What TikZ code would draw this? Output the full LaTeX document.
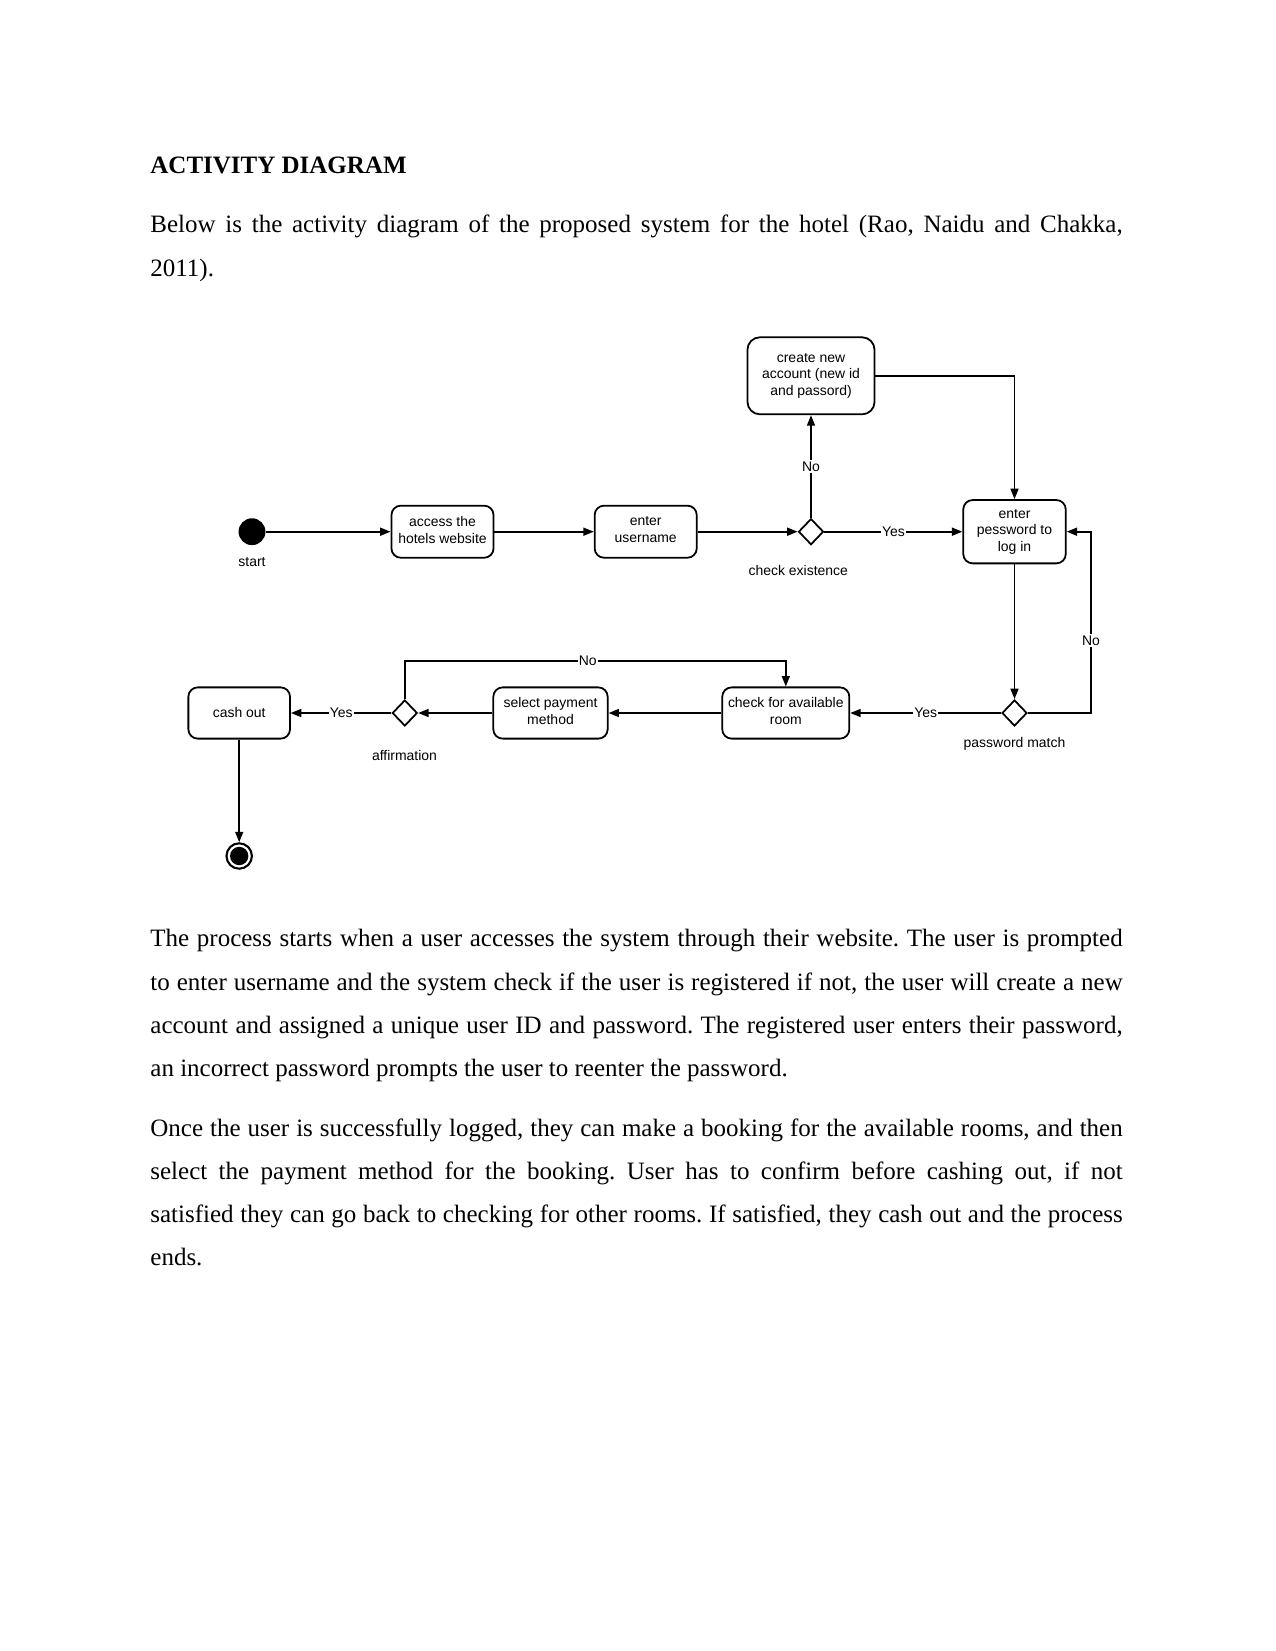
\documentclass[tikz,border=0pt]{standalone}
\usepackage{fontspec}
\setmainfont{Liberation Serif}
\newfontfamily\dsans{Liberation Sans}
\usetikzlibrary{shapes.geometric,arrows.meta}
\newcommand{\jline}[1]{\makebox[466.7pt][s]{#1}}
\frenchspacing
\begin{document}
\begin{tikzpicture}[x=0.48pt,y=-0.48pt,
  body/.style={anchor=base west, inner sep=0pt, font=\fontsize{12}{14}\selectfont},
  act/.style={draw, line width=0.85pt, rounded corners=4.5pt, align=center, inner sep=0pt, font=\dsans\fontsize{6.7}{8}\selectfont},
  dec/.style={draw, diamond, line width=0.85pt, minimum width=12pt, minimum height=12.5pt, inner sep=0pt},
  lbl/.style={fill=white, inner sep=0.6pt, font=\dsans\fontsize{6.7}{8}\selectfont},
  dnote/.style={inner sep=0pt, font=\dsans\fontsize{6.7}{8}\selectfont},
  flow/.style={draw, line width=0.85pt, -{Triangle[length=5pt,width=3.8pt]}}
]
\useasboundingbox (0,0) rectangle (1275,1651);

% page text
\node[body, font=\bfseries\fontsize{12}{14}\selectfont] (head) at (150,173.3) {ACTIVITY DIAGRAM};
\node[body] (p1a) at (150,232.7) {\jline{Below is the activity diagram of the proposed system for the hotel (Rao, Naidu and Chakka,}};
\node[body] (p1b) at (150,276) {2011).};

\node[body] (p2a) at (150,946.7) {\jline{The process starts when a user accesses the system through their website. The user is prompted}};
\node[body] (p2b) at (150,990) {\jline{to enter username and the system check if the user is registered if not, the user will create a new}};
\node[body] (p2c) at (150,1033.3) {\jline{account and assigned a unique user ID and password. The registered user enters their password,}};
\node[body] (p2d) at (150,1076) {an incorrect password prompts the user to reenter the password.};

\node[body] (p3a) at (150,1136.7) {\jline{Once the user is successfully logged, they can make a booking for the available rooms, and then}};
\node[body] (p3b) at (150,1179.3) {\jline{select the payment method for the booking. User has to confirm before cashing out, if not}};
\node[body] (p3c) at (150,1222) {\jline{satisfied they can go back to checking for other rooms. If satisfied, they cash out and the process}};
\node[body] (p3d) at (150,1265) {ends.};

% diagram nodes
\node[circle, fill, inner sep=0pt, minimum size=12.9pt] (start) at (252,531.7) {};
\node[dnote, anchor=base] (startl) at (252,566.5) {start};
\node[act, minimum width=49pt, minimum height=25pt] (access) at (442.5,531.7) {access the\\hotels website\\[-6pt]};
\node[act, minimum width=49pt, minimum height=25pt] (user) at (645.7,531.7) {enter\\username\\[-6pt]};
\node[dec] (chk) at (811,531.7) {};
\node[dnote, anchor=base] (chkl) at (798.3,575) {check existence};
\node[act, minimum width=61pt, minimum height=37pt, rounded corners=6pt] (create) at (811,375.8) {create new\\account (new id\\and passord)};
\node[act, minimum width=49.2pt, minimum height=30.4pt] (pw) at (1014.5,531.7) {enter\\pessword to\\log in};
\node[dec] (pm) at (1014.5,713) {};
\node[dnote, anchor=base] (pml) at (1014.5,747.5) {password match};
\node[act, minimum width=61pt, minimum height=24.6pt] (room) at (785.8,713) {check for available\\room\\[-6pt]};
\node[act, minimum width=54.9pt, minimum height=24.6pt] (pay) at (550.5,713) {select payment\\method\\[-6pt]};
\node[dec] (aff) at (404.8,713) {};
\node[dnote, anchor=base] (affl) at (404.5,760) {affirmation};
\node[act, minimum width=48.8pt, minimum height=24.6pt] (cash) at (239.2,713) {cash out};
\node[circle, draw, line width=1pt, minimum size=12.2pt, inner sep=0pt,
      path picture={\fill (path picture bounding box.center) circle (4.4pt);}] (end) at (239.2,856) {};

% connectors
\draw[flow] (start) -- (access);
\draw[flow] (access) -- (user);
\draw[flow] (user) -- (chk);
\draw[flow] (chk) -- node[lbl]{Yes} (pw);
\draw[flow] (chk) -- node[lbl]{No} (create);
\draw[flow] (create.east) -| (pw.north);
\draw[flow] (pw) -- (pm);
\coordinate (loopr) at (1091,713);
\draw[flow] (pm.east) -- (loopr) -- node[lbl,pos=0.4]{No} (loopr |- pw.east) -- (pw.east);
\draw[flow] (pm) -- node[lbl]{Yes} (room);
\draw[flow] (room) -- (pay);
\draw[flow] (pay) -- (aff);
\draw[flow] (aff) -- node[lbl]{Yes} (cash);
\coordinate (loopt) at (404.8,660.7);
\draw[flow] (aff.north) -- (loopt) -- node[lbl,pos=0.48]{No} (loopt -| room.north) -- (room.north);
\draw[flow] (cash) -- (end);
\end{tikzpicture}
\end{document}
